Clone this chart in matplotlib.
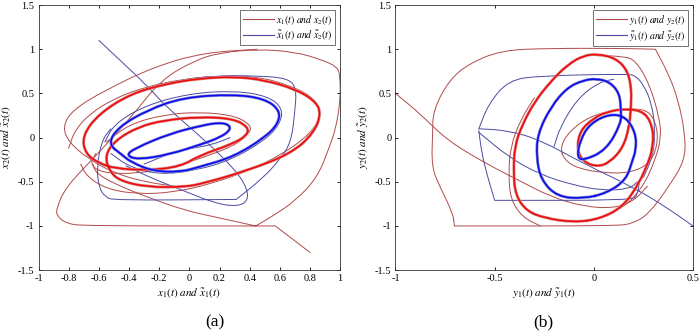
import matplotlib
matplotlib.use('Agg')
import matplotlib.pyplot as plt
from matplotlib.lines import Line2D
from matplotlib.path import Path
from matplotlib.patches import PathPatch
import numpy as np

plt.rcParams['font.family'] = 'serif'
plt.rcParams['font.serif'] = ['Liberation Serif', 'DejaVu Serif']
plt.rcParams['mathtext.fontset'] = 'stix'

# ---- panel (a): x1/x2 plane ----
a_red_orbit = [(0.875, 0.28), (0.83, 0.42), (0.70, 0.55), (0.50, 0.65), (0.30, 0.69), (0.07, 0.67),
               (-0.15, 0.61), (-0.385, 0.50), (-0.60, 0.27), (-0.71, 0.02), (-0.69, -0.18), (-0.60, -0.29),
               (-0.49, -0.35), (-0.28, -0.37), (-0.06, -0.33), (0.07, -0.20), (0.29, -0.07), (0.385, 0.03),
               (0.39, 0.12), (0.29, 0.215), (0.07, 0.235), (-0.17, 0.196), (-0.34, 0.12), (-0.49, -0.03),
               (-0.56, -0.20), (-0.53, -0.38), (-0.46, -0.49), (-0.28, -0.56), (-0.04, -0.56), (0.09, -0.52),
               (0.39, -0.37), (0.675, -0.18), (0.825, 0.05), (0.875, 0.28)]
a_blue_outer = [(-0.54, -0.07), (-0.47, 0.12), (-0.28, 0.31), (-0.04, 0.455), (0.29, 0.49), (0.50, 0.44),
                (0.60, 0.31), (0.59, 0.16), (0.50, 0.0), (0.29, -0.22), (0.07, -0.33), (-0.06, -0.39),
                (-0.24, -0.38), (-0.385, -0.28), (-0.45, -0.19), (-0.54, -0.07)]
a_blue_inner = [(-0.42, -0.20), (-0.36, -0.12), (-0.13, 0.045), (0.09, 0.14), (0.20, 0.17), (0.265, 0.145),
                (0.27, 0.08), (0.20, 0.0), (0.09, -0.07), (-0.13, -0.19), (-0.34, -0.25), (-0.42, -0.20)]

a_red_thin = [
    [(0.80, -1.30), (0.57, -1.00), (0.57, -1.00), (-0.70, -1.00), (-0.82, -0.97), (-0.88, -0.88),
     (-0.88, -0.80), (-0.82, -0.56), (-0.60, -0.17), (-0.385, 0.233), (-0.19, 0.65), (0.03, 0.87),
     (0.20, 0.96), (0.45, 1.00), (0.70, 0.97), (0.88, 0.88), (0.98, 0.80), (1.00, 0.70), (1.00, 0.40),
     (0.97, 0.10), (0.93, -0.10), (0.85, -0.45), (0.70, -0.72), (0.55, -0.89), (0.44, -1.00), (0.44, -1.00),
     (0.20, -0.91), (-0.04, -0.82), (-0.30, -0.66), (-0.50, -0.52), (-0.62, -0.40), (-0.64, -0.30)],
    [(0.45, 1.00), (0.09, 0.96), (-0.235, 0.80), (-0.56, 0.535), (-0.777, 0.31), (-0.84, 0.12),
     (-0.80, -0.05), (-0.67, -0.24), (-0.50, -0.40), (-0.30, -0.50), (-0.10, -0.55)],
    [(-0.80, -0.12), (-0.76, 0.08), (-0.66, 0.27), (-0.50, 0.44), (-0.30, 0.57), (-0.05, 0.66),
     (0.20, 0.70), (0.45, 0.69), (0.65, 0.60), (0.80, 0.48), (0.87, 0.33), (0.85, 0.15), (0.75, -0.03),
     (0.60, -0.20), (0.40, -0.37), (0.15, -0.52), (-0.10, -0.62), (-0.35, -0.64), (-0.55, -0.58),
     (-0.68, -0.44), (-0.72, -0.30)],
    [(-0.55, -0.05), (-0.40, 0.15), (-0.17, 0.26), (0.07, 0.29), (0.30, 0.25), (0.41, 0.14), (0.40, 0.05),
     (0.30, -0.09), (0.10, -0.22), (-0.10, -0.33), (-0.35, -0.41), (-0.58, -0.40), (-0.66, -0.30),
     (-0.62, -0.18)],
]
a_blue_thin = [
    [(-0.60, 1.10), (-0.45, 0.86), (-0.30, 0.62), (-0.13, 0.31), (0.09, -0.01), (0.31, -0.37),
     (0.39, -0.60), (0.38, -0.74), (0.29, -0.78), (0.15, -0.73), (-0.04, -0.60), (-0.25, -0.46),
     (-0.42, -0.32)],
    [(-0.35, 0.50), (-0.10, 0.64), (0.15, 0.70), (0.45, 0.70), (0.66, 0.67), (0.71, 0.55), (0.70, 0.30),
     (0.675, -0.05), (0.60, -0.25), (0.48, -0.47), (0.31, -0.70), (0.31, -0.70), (-0.50, -0.71),
     (-0.56, -0.67), (-0.60, -0.56), (-0.614, -0.33), (-0.58, -0.03), (-0.52, 0.10)],
    [(-0.56, -0.05), (-0.50, 0.15), (-0.30, 0.36), (0.0, 0.50), (0.30, 0.53), (0.52, 0.47), (0.62, 0.33),
     (0.60, 0.15), (0.50, -0.03), (0.28, -0.25), (0.05, -0.37), (-0.20, -0.42), (-0.40, -0.33),
     (-0.52, -0.18)],
    [(-0.30, -0.30), (-0.10, -0.16), (0.02, -0.12), (0.15, -0.08), (0.27, 0.0)],
]

# ---- panel (b): y1/y2 plane ----
b_red_orbit = [(-0.10, -0.96), (-0.25, -0.91), (-0.34, -0.83), (-0.395, -0.65), (-0.405, -0.40),
               (-0.40, -0.10), (-0.36, 0.15), (-0.30, 0.40), (-0.22, 0.63), (-0.13, 0.83), (-0.05, 0.93),
               (0.02, 0.945), (0.11, 0.90), (0.17, 0.76), (0.19, 0.55), (0.187, 0.35), (0.179, 0.12),
               (0.146, -0.12), (0.08, -0.28), (0.02, -0.33), (-0.05, -0.28), (-0.086, -0.14), (-0.07, 0.08),
               (0.0, 0.22), (0.063, 0.29), (0.162, 0.33), (0.261, 0.29), (0.302, 0.08), (0.294, -0.14),
               (0.278, -0.26), (0.228, -0.52), (0.146, -0.785), (0.03, -0.92), (-0.10, -0.96)]
b_blue_orbit = [(-0.052, -0.69), (-0.184, -0.67), (-0.266, -0.48), (-0.29, -0.22), (-0.283, 0.045),
                (-0.217, 0.347), (-0.135, 0.565), (-0.052, 0.65), (0.014, 0.667), (0.08, 0.63),
                (0.13, 0.50), (0.137, 0.30), (0.137, 0.16), (0.063, -0.14), (-0.052, -0.26),
                (-0.085, -0.22), (-0.069, -0.03), (-0.02, 0.158), (0.08, 0.27), (0.163, 0.234),
                (0.212, 0.045), (0.212, -0.143), (0.195, -0.256), (0.163, -0.48), (0.063, -0.63),
                (-0.052, -0.69)]

b_red_thin = [
    [(-0.703, -1.0), (-0.703, -1.0), (0.113, -1.0), (0.20, -0.97), (0.278, -0.86), (0.377, -0.558),
     (0.46, -0.256), (0.46, 0.045), (0.426, 0.42), (0.377, 0.72), (0.31, 1.0), (0.31, 1.0), (0.113, 1.01),
     (-0.217, 1.01), (-0.464, 0.99), (-0.63, 0.837), (-0.73, 0.65), (-0.81, 0.31), (-0.813, 0.045),
     (-0.818, -0.33), (-0.776, -0.558), (-0.71, -0.86), (-0.703, -1.0)],
    [(-1.0, 0.5), (-0.876, 0.27), (-0.74, -0.03), (-0.547, -0.29), (-0.382, -0.48), (-0.217, -0.67),
     (-0.052, -0.78), (0.10, -0.80), (0.20, -0.72), (0.27, -0.55)],
    [(-0.17, -0.10), (-0.12, 0.08), (-0.02, 0.24), (0.10, 0.31), (0.20, 0.33), (0.28, 0.30), (0.32, 0.12),
     (0.32, -0.10), (0.28, -0.30), (0.18, -0.40), (0.05, -0.40), (-0.08, -0.35), (-0.15, -0.25),
     (-0.17, -0.10)],
    [(0.0, 0.93), (0.15, 0.92), (0.21, 0.875), (0.28, 0.61), (0.33, 0.23), (0.34, 0.0), (0.31, -0.25),
     (0.25, -0.55), (0.15, -0.80), (0.0, -0.93)],
    [(-0.27, -1.0), (-0.36, -0.90), (-0.42, -0.70), (-0.43, -0.40), (-0.42, -0.10), (-0.37, 0.20),
     (-0.30, 0.45)],
]
b_blue_thin = [
    [(-0.58, 0.10), (-0.43, 0.08), (-0.267, -0.03), (-0.052, -0.294), (0.195, -0.558), (0.36, -0.78),
     (0.50, -1.0)],
    [(-0.58, 0.06), (-0.43, -0.22), (-0.27, -0.42), (-0.10, -0.54), (0.05, -0.60), (0.18, -0.58),
     (0.22, -0.50)],
    [(-0.58, 0.10), (-0.53, 0.385), (-0.43, 0.65), (-0.27, 0.70), (0.17, 0.72), (0.21, 0.70),
     (0.25, 0.60), (0.29, 0.40), (0.31, 0.10), (0.30, -0.20), (0.25, -0.45)],
    [(-0.58, 0.08), (-0.57, -0.10), (-0.55, -0.33), (-0.50, -0.71), (-0.50, -0.71), (0.19, -0.71),
     (0.22, -0.65), (0.23, -0.50)],
    [(0.10, 0.66), (0.03, 0.63), (-0.08, 0.45), (-0.17, 0.12), (-0.20, -0.10)],
]

thin_red = '#b04a4a'
thin_blue = '#4b4ba3'


def smooth_path(pts):
    # quadratic bezier through the midpoints, the traced points act as control points
    p = np.array(pts, dtype=float)
    closed = np.allclose(p[0], p[-1])
    if closed:
        p = p[:-1]
        m = (p + np.roll(p, -1, axis=0)) / 2
        verts = [m[-1]]
        codes = [Path.MOVETO]
        for i in range(len(p)):
            verts += [p[i], m[i]]
            codes += [Path.CURVE3, Path.CURVE3]
    else:
        m = (p[:-1] + p[1:]) / 2
        verts = [p[0], m[0]]
        codes = [Path.MOVETO, Path.LINETO]
        for i in range(1, len(p) - 1):
            verts += [p[i], m[i]]
            codes += [Path.CURVE3, Path.CURVE3]
        verts.append(p[-1])
        codes.append(Path.LINETO)
    return Path(verts, codes)


def curve(ax, pts, color, lw):
    ax.add_patch(PathPatch(smooth_path(pts), fill=False, edgecolor=color, lw=lw, capstyle='round'))


def draw(ax, orbits, red_thin, blue_thin):
    for p in red_thin:
        curve(ax, p, thin_red, 0.7)
    for p in blue_thin:
        curve(ax, p, thin_blue, 0.7)
    for p, c, under in orbits:
        curve(ax, p, under, 2.1)
        curve(ax, p, c, 1.15)


def style(ax):
    ax.tick_params(direction='in', top=True, right=True, labelsize=7.5, length=2.5, width=0.6, pad=3)
    for s in ax.spines.values():
        s.set_linewidth(0.6)
        s.set_color('#333333')


fig = plt.figure(figsize=(7, 3.36), dpi=100)
ax1 = fig.add_axes([0.055, 0.196, 0.431, 0.789])
ax2 = fig.add_axes([0.565, 0.196, 0.425, 0.789])

draw(ax1, [(a_red_orbit, '#f00a0a', '#d98585'), (a_blue_outer, '#0a0af0', '#8585cf'),
           (a_blue_inner, '#0a0af0', '#8585cf')], a_red_thin, a_blue_thin)
draw(ax2, [(b_red_orbit, '#f00a0a', '#d98585'), (b_blue_orbit, '#0a0af0', '#8585cf')],
     b_red_thin, b_blue_thin)

ax1.set_xlim(-1, 1)
ax1.set_ylim(-1.5, 1.5)
ax1.set_xticks([-1, -0.8, -0.6, -0.4, -0.2, 0, 0.2, 0.4, 0.6, 0.8, 1])
ax1.set_xticklabels(['-1', '-0.8', '-0.6', '-0.4', '-0.2', '0', '0.2', '0.4', '0.6', '0.8', '1'])
ax1.set_yticks([-1.5, -1, -0.5, 0, 0.5, 1, 1.5])
ax1.set_yticklabels(['-1.5', '-1', '-0.5', '0', '0.5', '1', '1.5'])
ax1.set_xlabel(r'$x_1(t)\ and\ \tilde{x}_1(t)$', fontsize=8, labelpad=2)
ax1.set_ylabel(r'$x_2(t)\ and\ \tilde{x}_2(t)$', fontsize=8)
ax1.yaxis.set_label_coords(-0.085, 0.5)

ax2.set_xlim(-1, 0.5)
ax2.set_ylim(-1.5, 1.5)
ax2.set_xticks([-1, -0.5, 0, 0.5])
ax2.set_xticklabels(['-1', '-0.5', '0', '0.5'])
ax2.set_yticks([-1.5, -1, -0.5, 0, 0.5, 1, 1.5])
ax2.set_yticklabels(['-1.5', '-1', '-0.5', '0', '0.5', '1', '1.5'])
ax2.set_xlabel(r'$y_1(t)\ and\ \tilde{y}_1(t)$', fontsize=8, labelpad=2)
ax2.set_ylabel(r'$y_2(t)\ and\ \tilde{y}_2(t)$', fontsize=8)
ax2.yaxis.set_label_coords(-0.085, 0.5)

for ax in (ax1, ax2):
    style(ax)

h1 = [Line2D([], [], color=thin_red, lw=0.8), Line2D([], [], color=thin_blue, lw=0.8)]
leg1 = ax1.legend(h1, [r'$x_1(t)\ and\ x_2(t)$', r'$\tilde{x}_1(t)\ and\ \tilde{x}_2(t)$'],
                  loc='upper right', fontsize=7, frameon=True, fancybox=False, edgecolor='#333333',
                  borderpad=0.3, labelspacing=0.2, handlelength=3.2, handletextpad=0.2,
                  borderaxespad=0.5)
leg1.get_frame().set_linewidth(0.6)
leg2 = ax2.legend(h1, [r'$y_1(t)\ and\ y_2(t)$', r'$\tilde{y}_1(t)\ and\ \tilde{y}_2(t)$'],
                  loc='upper right', fontsize=7, frameon=True, fancybox=False, edgecolor='#333333',
                  borderpad=0.3, labelspacing=0.2, handlelength=3.2, handletextpad=0.2,
                  borderaxespad=0.5)
leg2.get_frame().set_linewidth(0.6)

fig.text(0.307, 0.03, '(a)', fontsize=12.5, ha='center')
fig.text(0.776, 0.03, '(b)', fontsize=12.5, ha='center')

fig.savefig('out.png', dpi=100)
